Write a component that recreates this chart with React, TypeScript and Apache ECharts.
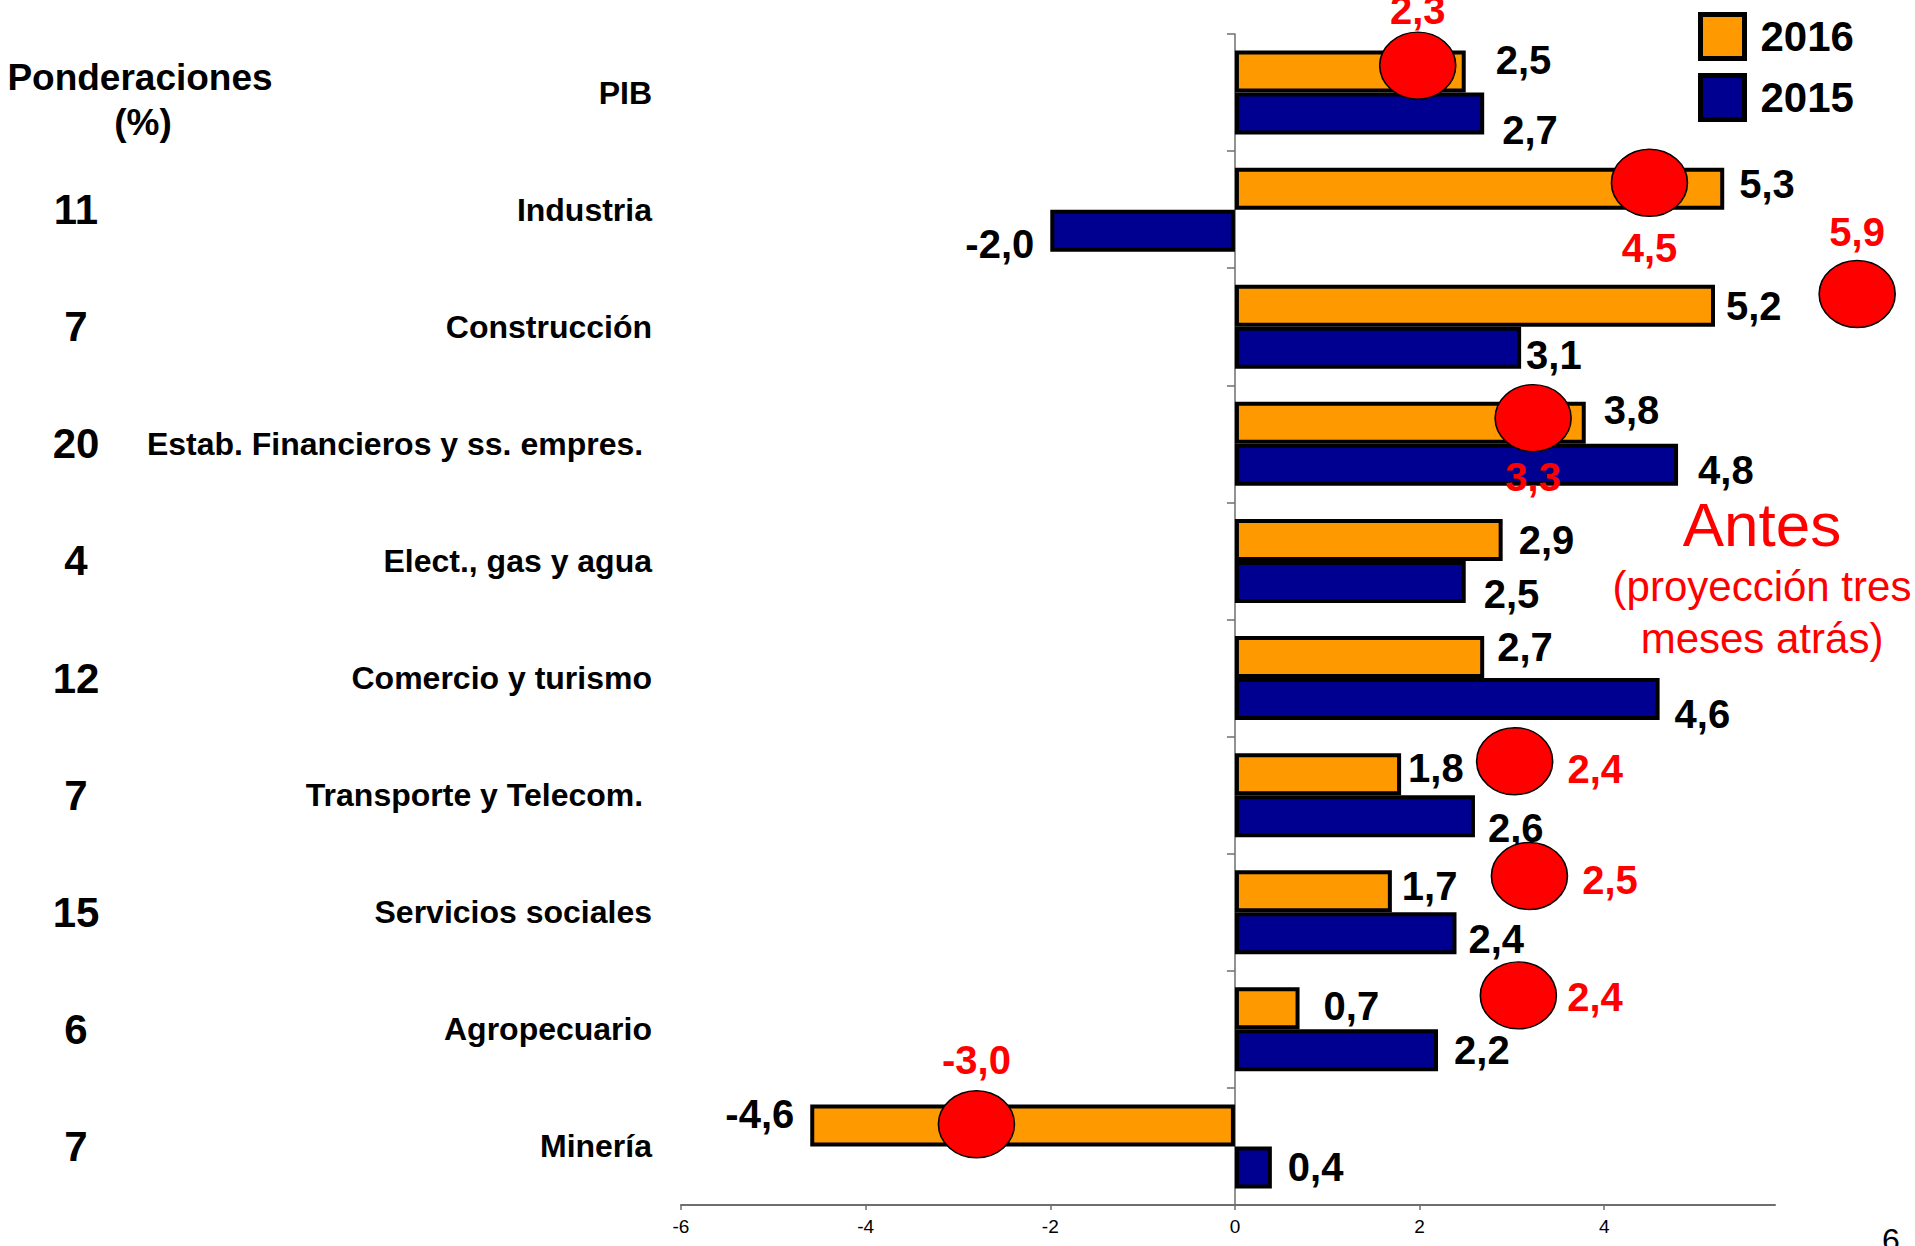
import React, { useEffect, useRef } from 'react';
import * as echarts from 'echarts';

// ---------- data ----------
const categories = [
  'PIB',
  'Industria',
  'Construcción',
  'Estab. Financieros y ss. empres. ',
  'Elect., gas y agua',
  'Comercio y turismo',
  'Transporte y Telecom. ',
  'Servicios sociales',
  'Agropecuario',
  'Minería',
];
const weights = ['', '11', '7', '20', '4', '12', '7', '15', '6', '7'];
const values2016 = [2.5, 5.3, 5.2, 3.8, 2.9, 2.7, 1.8, 1.7, 0.7, -4.6];
const values2015 = [2.7, -2.0, 3.1, 4.8, 2.5, 4.6, 2.6, 2.4, 2.2, 0.4];
// "Antes" (projection three months earlier) markers
const antesValues = [2.3, 4.5, 5.9, 3.3, 2.4, 2.5, 2.4, -3.0];
const antesMarkerX = [1.98, 4.49, 6.74, 3.23, 3.03, 3.19, 3.07, -2.8];
const antesMarkerRow = [0.27, 1.27, 2.22, 3.28, 6.21, 7.19, 8.21, 9.31];
const antesLabelSide = ['top', 'bottom', 'top', 'bottom', 'right', 'right', 'right', 'top'];
const xTicks = [-6, -4, -2, 0, 2, 4];

// ---------- label nudges (style only, px) ----------
const nudge2016 = [[30, -12], [15, -5], [11, 0], [18, -13], [16, 0], [13, -10], [7, -6], [10, -5], [24, -2], [-16, -11]];
const nudge2015 = [[18, 16], [-16, 13], [5, 7], [20, 5], [18, 12], [15, 15], [13, 12], [12, 6], [16, 0], [16, 0]];
const antesNudge = [[0, 0], [0, 10], [0, -7], [0, 4], [0, 8], [0, 4], [-4, 2], [0, -9]];

const fam = "'Liberation Sans', Arial, Helvetica, sans-serif";
const fmt = (v: number) => v.toFixed(1).replace('.', ',');
const ellipse = 'path://M50,0 A50,50 0 1,1 50,100 A50,50 0 1,1 50,0 Z';

export default function App() {
  const ref = useRef<HTMLDivElement>(null);
  useEffect(() => {
    document.body.style.margin = '0';
    const chart = echarts.init(ref.current!, undefined, { renderer: 'svg' });
    const barLabel = {
      show: true,
      formatter: (p: any) => fmt(p.value),
      fontSize: 40,
      fontWeight: 'bold',
      fontFamily: fam,
      color: '#000',
      distance: 0,
    };
    const barData = (vals: number[], nudges: number[][]) =>
      vals.map((v, i) => ({
        value: v,
        label: { position: v < 0 ? 'left' : 'right', offset: nudges[i] },
      }));
    const option: any = {
      animation: false,
      backgroundColor: '#ffffff',
      grid: {
        left: 681,
        right: 140,
        top: 34,
        bottom: 41,
        containLabel: false,
        outerBoundsMode: 'none',
      },
      legend: {
        data: ['2016', '2015'],
        orient: 'vertical',
        left: 1698,
        top: 12,
        padding: 0,
        itemWidth: 44,
        itemHeight: 44,
        itemGap: 12,
        icon: 'rect',
        itemStyle: { borderColor: '#000', borderWidth: 5 },
        textStyle: {
          fontSize: 42,
          fontWeight: 'bold',
          fontFamily: fam,
          color: '#000',
          padding: [0, 0, 0, 11],
        },
      },
      xAxis: {
        type: 'value',
        min: -6,
        max: 5.85,
        interval: 2,
        axisLine: { show: true, onZero: false, lineStyle: { color: '#6e6e6e', width: 2 } },
        axisTick: { show: true, length: 5, customValues: xTicks, lineStyle: { color: '#6e6e6e', width: 1.5 } },
        axisLabel: {
          customValues: xTicks,
          margin: 12,
          fontSize: 19,
          fontFamily: fam,
          color: '#000',
          formatter: (v: number) => (Number.isInteger(v) ? String(v) : ''),
        },
        splitLine: { show: false },
      },
      yAxis: [
        {
          type: 'category',
          data: categories,
          inverse: true,
          axisLine: { show: true, onZero: true, lineStyle: { color: '#6e6e6e', width: 1.5 } },
          axisTick: { show: true, length: 8, lineStyle: { color: '#6e6e6e', width: 1.5 } },
          axisLabel: {
            margin: 29,
            fontSize: 32,
            fontWeight: 'bold',
            fontFamily: fam,
            color: '#000',
          },
        },
        {
          type: 'category',
          data: weights,
          inverse: true,
          position: 'left',
          axisLine: { show: false, onZero: false },
          axisTick: { show: false },
          axisLabel: {
            margin: 605,
            align: 'center',
            fontSize: 42,
            fontWeight: 'bold',
            fontFamily: fam,
            color: '#000',
          },
        },
        { type: 'value', min: 0, max: 10, inverse: true, show: false },
      ],
      series: [
        {
          name: '2016',
          type: 'bar',
          yAxisIndex: 0,
          barWidth: 42,
          barGap: '0%',
          itemStyle: { color: '#FF9900', borderColor: '#000', borderWidth: 4 },
          label: barLabel,
          data: barData(values2016, nudge2016),
          z: 2,
        },
        {
          name: '2015',
          type: 'bar',
          yAxisIndex: 0,
          barWidth: 42,
          barGap: '0%',
          itemStyle: { color: '#000090', borderColor: '#000', borderWidth: 4 },
          label: barLabel,
          data: barData(values2015, nudge2015),
          z: 2,
        },
        {
          name: 'Antes',
          type: 'scatter',
          xAxisIndex: 0,
          yAxisIndex: 2,
          clip: false,
          symbol: ellipse,
          symbolSize: [76, 67],
          itemStyle: { color: '#FF0000', borderColor: '#000', borderWidth: 1.5, opacity: 1 },
          label: {
            show: true,
            formatter: (p: any) => fmt(p.value[2]),
            color: '#FF0000',
            fontSize: 40,
            fontWeight: 'bold',
            fontFamily: fam,
          },
          data: antesMarkerX.map((x, i) => ({
            value: [x, antesMarkerRow[i], antesValues[i]],
            label: {
              position: antesLabelSide[i],
              distance: antesLabelSide[i] === 'right' ? 14 : 1,
              offset: antesNudge[i],
            },
          })),
          z: 5,
        },
      ],
      graphic: [
        {
          type: 'text',
          x: 140,
          y: 77,
          style: {
            text: 'Ponderaciones',
            fill: '#000',
            fontSize: 37,
            fontWeight: 'bold',
            fontFamily: fam,
            align: 'center',
            verticalAlign: 'middle',
          },
        },
        {
          type: 'text',
          x: 143,
          y: 122,
          style: {
            text: '(%)',
            fill: '#000',
            fontSize: 37,
            fontWeight: 'bold',
            fontFamily: fam,
            align: 'center',
            verticalAlign: 'middle',
          },
        },
        {
          type: 'text',
          x: 1762,
          y: 524,
          style: {
            text: 'Antes',
            fill: '#FF0000',
            fontSize: 62,
            fontFamily: fam,
            align: 'center',
            verticalAlign: 'middle',
          },
        },
        {
          type: 'text',
          x: 1762,
          y: 586,
          style: {
            text: '(proyección tres',
            fill: '#FF0000',
            fontSize: 42,
            fontFamily: fam,
            align: 'center',
            verticalAlign: 'middle',
          },
        },
        {
          type: 'text',
          x: 1762,
          y: 638,
          style: {
            text: 'meses atrás)',
            fill: '#FF0000',
            fontSize: 42,
            fontFamily: fam,
            align: 'center',
            verticalAlign: 'middle',
          },
        },
        {
          type: 'text',
          x: 1891,
          y: 1240,
          style: {
            text: '6',
            fill: '#000',
            fontSize: 32,
            fontFamily: fam,
            align: 'center',
            verticalAlign: 'middle',
          },
        },
      ],
    };
    chart.setOption(option);
    return () => chart.dispose();
  }, []);
  return <div ref={ref} style={{ width: 1915, height: 1246 }} />;
}
